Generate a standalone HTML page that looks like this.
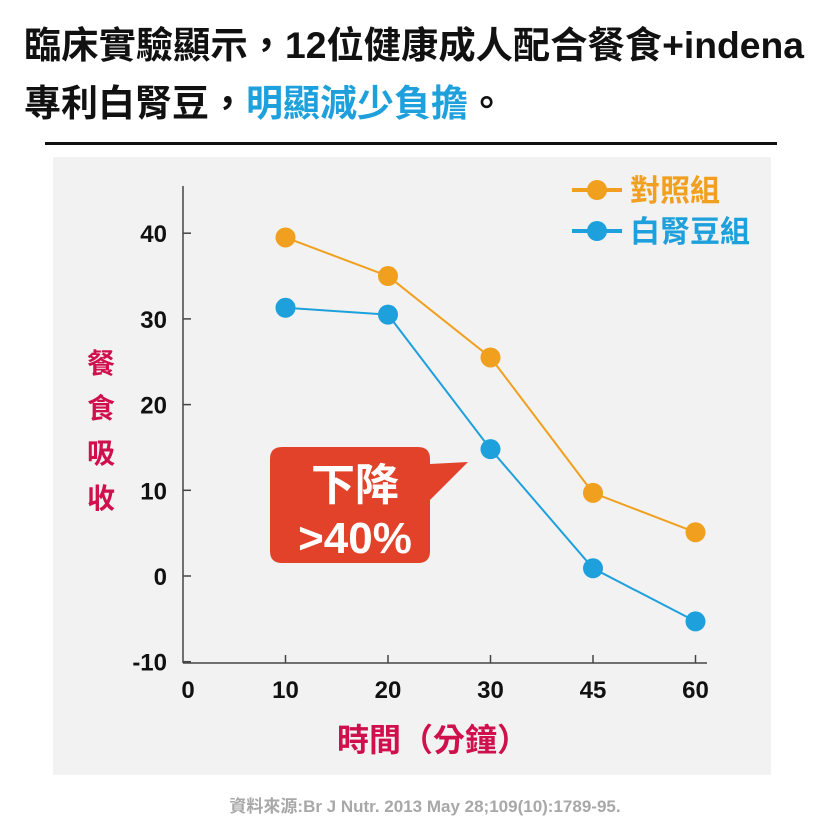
<!DOCTYPE html>
<html><head><meta charset="utf-8"><style>
html,body{margin:0;padding:0;background:#fff;width:825px;height:825px;overflow:hidden}
svg text{font-family:"Liberation Sans","Noto Sans CJK TC",sans-serif;font-weight:bold}
</style></head><body>
<svg width="825" height="825" id="svg">
<text x="24" y="58" font-size="37" fill="#111" textLength="780" lengthAdjust="spacingAndGlyphs">臨床實驗顯示，12位健康成人配合餐食+indena</text>
<text x="24" y="116" font-size="37" fill="#111">專利白腎豆，<tspan fill="#1ea0dc">明顯減少負擔</tspan>。</text>
<rect x="45" y="142" width="732" height="3" fill="#111"/>
<rect x="53" y="157" width="718" height="618" fill="#f2f2f2"/>
<g id="axes"></g>
<g id="marks"></g>
<g>
<path d="M282 447 H418 Q430 447 430 459 V464 L468 462 L430 500 V551 Q430 563 418 563 H282 Q270 563 270 551 V459 Q270 447 282 447 Z" fill="#e2412a"/>
<text x="355" y="500" font-size="44" fill="#fff" text-anchor="middle">下降</text>
<text x="355" y="553" font-size="44" fill="#fff" text-anchor="middle">&gt;40%</text>
</g>
<g fill="#d0104c" font-size="28" text-anchor="middle">
<text x="101" y="373">餐</text><text x="101" y="418">食</text><text x="101" y="463">吸</text><text x="101" y="508">收</text>
</g>
<text x="433" y="751" font-size="32" fill="#d0104c" text-anchor="middle">時間（分鐘）</text>
<text x="425" y="812" font-size="17" fill="#a8a8a8" text-anchor="middle">資料來源:Br J Nutr. 2013 May 28;109(10):1789-95.</text>
<g>
<line x1="572" y1="190" x2="622" y2="190" stroke="#f0a01e" stroke-width="4"/><circle cx="597" cy="190" r="10" fill="#f0a01e"/>
<text x="630" y="201" font-size="30" fill="#f0a01e">對照組</text></g>
<g>
<line x1="572" y1="231" x2="622" y2="231" stroke="#1ea0dc" stroke-width="4"/><circle cx="597" cy="231" r="10" fill="#1ea0dc"/>
<text x="630" y="242" font-size="30" fill="#1ea0dc">白腎豆組</text></g>
</svg>
<script>
const categories=["0","10","20","30","45","60"];
const controlValues=[null,39.5,35,25.5,9.7,5.1];
const beanValues=[null,31.3,30.5,14.8,0.9,-5.3];
const yTicks=[-10,0,10,20,30,40];
const NS="http://www.w3.org/2000/svg";
function xs(i){return 183+i*102.5;}
function ys(v){return 576-v*8.57;}
function mk(tag,attrs,parent){const e=document.createElementNS(NS,tag);for(const k in attrs)e.setAttribute(k,attrs[k]);parent.appendChild(e);return e;}
const ax=document.getElementById('axes'),mg=document.getElementById('marks');
let e=mk('line',{x1:183,y1:186,x2:183,y2:663,stroke:'#444','stroke-width':1.5},ax);


e=mk('line',{x1:183,y1:663,x2:707,y2:663,stroke:'#444','stroke-width':1.5},ax);


yTicks.forEach(v=>{
 const y=ys(v);
 mk('line',{x1:183,y1:y,x2:191,y2:y,stroke:'#444','stroke-width':1.5},ax);
 const t=mk('text',{x:167,y:y+9,'font-size':24,'text-anchor':'end',fill:'#111'},ax);
 t.textContent=v;
 
 
});
categories.forEach((c,i)=>{
 const x=xs(i);
 if(i>0)mk('line',{x1:x,y1:655,x2:x,y2:663,stroke:'#444','stroke-width':1.5},ax);
 const t=mk('text',{x:i==0?x+5:x,y:698,'font-size':24,'text-anchor':'middle',fill:'#111'},ax);
 t.textContent=c;
 
 
});
function series(vals,color,name){
 let d='';vals.forEach((v,i)=>{if(v==null)return;d+=(d?'L':'M')+xs(i)+' '+ys(v);});
 const p=mk('path',{d:d,fill:'none',stroke:color,'stroke-width':2},mg);
 
 
 vals.forEach((v,i)=>{if(v==null)return;
  const c=mk('circle',{cx:xs(i),cy:ys(v),r:10,fill:color},mg);
  
  
 });
}
series(controlValues,'#f0a01e','control');
series(beanValues,'#1ea0dc','bean');
</script>
</body></html>
